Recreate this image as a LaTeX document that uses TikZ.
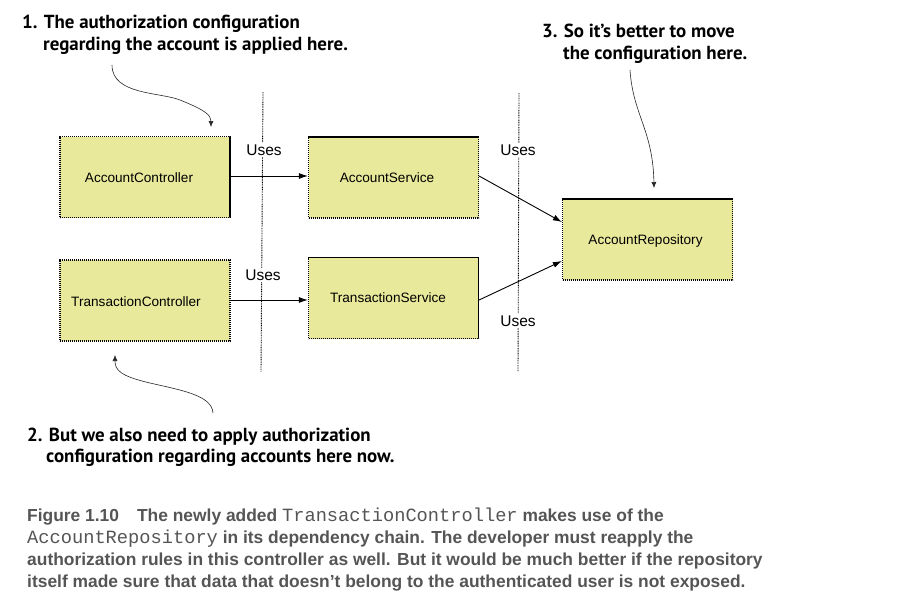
\documentclass[tikz,border=0pt]{standalone}
\usepackage{fontspec}
\setmainfont{Liberation Sans}
\newfontfamily\annfont{PT Sans}
\newfontfamily\capfont{Liberation Sans}
\newfontfamily\capmono{Liberation Mono}
\usetikzlibrary{arrows.meta}
\definecolor{boxfill}{HTML}{E9E99B}
\definecolor{capgray}{HTML}{555555}
\begin{document}
\begin{tikzpicture}[x=1pt,y=-1pt,
  box/.style={draw=black,fill=boxfill,line width=1.2pt,dash pattern=on 1.2pt off 0.8pt,
    minimum width=170pt,minimum height=81pt,inner sep=0pt},
  lbl/.style={font=\fontsize{13.6}{16}\selectfont,inner sep=0pt},
  uses/.style={font=\fontsize{15.5}{18}\selectfont,fill=white,inner sep=2pt},
  sep/.style={draw=black,line width=0.9pt,dash pattern=on 0.9pt off 0.8pt},
  conn/.style={draw=black,line width=0.9pt,-{Latex[length=9pt,width=6pt]}},
  callout/.style={draw=black!85,line width=0.6pt,-{Latex[length=6pt,width=5pt]}},
  ann/.style={font=\annfont\bfseries\fontsize{18.9}{22}\selectfont,anchor=base west,inner sep=0pt},
  captxt/.style={font=\capfont\bfseries\fontsize{17.4}{22}\selectfont,text=capgray,anchor=base west,inner sep=0pt}
]
\useasboundingbox[fill=white] (0,0) rectangle (904,611);

% separators
\coordinate (s1t) at (263,92);
\coordinate (s1b) at (261,372);
\coordinate (s2t) at (519,93);
\coordinate (s2b) at (518,371);
\draw[sep] (s1t) -- (s1b);
\draw[sep] (s2t) -- (s2b);
\node[uses] (u1) at (264,150) {Uses};
\node[uses] (u2) at (263,275) {Uses};
\node[uses] (u3) at (518,150) {Uses};
\node[uses] (u4) at (518,321) {Uses};

% boxes
\node[box] (ac) at (145,177) {};
\node[box] (as) at (393.5,177.5) {};
\node[box] (tc) at (145,300.5) {};
\node[box] (ts) at (393.5,298) {};
\node[box] (ar) at (647.5,239.5) {};
\node[lbl] (acl) at (139,178) {AccountController};
\node[lbl] (asl) at (387,178) {AccountService};
\node[lbl] (tcl) at (136,302) {TransactionController};
\node[lbl] (tsl) at (388,298) {TransactionService};
\node[lbl] (arl) at (645.5,241) {AccountRepository};

% connectors
\draw[conn] (ac.east |- 0,176) -- (as.west |- 0,176);
\draw[conn] (tc.east |- 0,300) -- (ts.west |- 0,300);
\draw[conn] (as.east |- 0,176) -- (ar.west |- 0,222);
\draw[conn] (ts.east |- 0,300) -- (ar.west |- 0,261);

% annotations
\node[ann] (n1a) at (22,28) {1. The authorization configuration};
\node[ann] (n1b) at (43,50) {regarding the account is applied here.};
\node[ann] (n3a) at (542,37) {3. So it’s better to move};
\node[ann] (n3b) at (563,59) {the configuration here.};
\node[ann] (n2a) at (27,441) {2. But we also need to apply authorization};
\node[ann] (n2b) at (46,462) {configuration regarding accounts here now.};

\coordinate (c1s) at (112,65);
\coordinate (c1e) at (211,127);
\coordinate (c3s) at (630,70);
\coordinate (c3e) at (654,188);
\coordinate (c2s) at (213,413);
\coordinate (c2e) at (115,355);
\draw[callout] (c1s) .. controls (112,95) and (160,92) .. (180,100) .. controls (205,110) and (211,115) .. (c1e);
\draw[callout] (c3s) .. controls (633,115) and (653,130) .. (c3e);
\draw[callout] (c2s) .. controls (212,395) and (180,390) .. (150,383) .. controls (120,376) and (115,370) .. (c2e);

% caption
\node[captxt] (cap1) at (27,521) {Figure 1.10\hspace{18pt}The newly added {\capmono\mdseries\fontsize{18.7}{22}\selectfont TransactionController} makes use of the};
\node[captxt] (cap2) at (27,543.5) {{\capmono\mdseries\fontsize{18.7}{22}\selectfont AccountRepository} in its dependency chain. The developer must reapply the};
\node[captxt] (cap3) at (27,565.5) {authorization rules in this controller as well. But it would be much better if the repository};
\node[captxt] (cap4) at (27,587.5) {itself made sure that data that doesn’t belong to the authenticated user is not exposed.};
\end{tikzpicture}
\end{document}
